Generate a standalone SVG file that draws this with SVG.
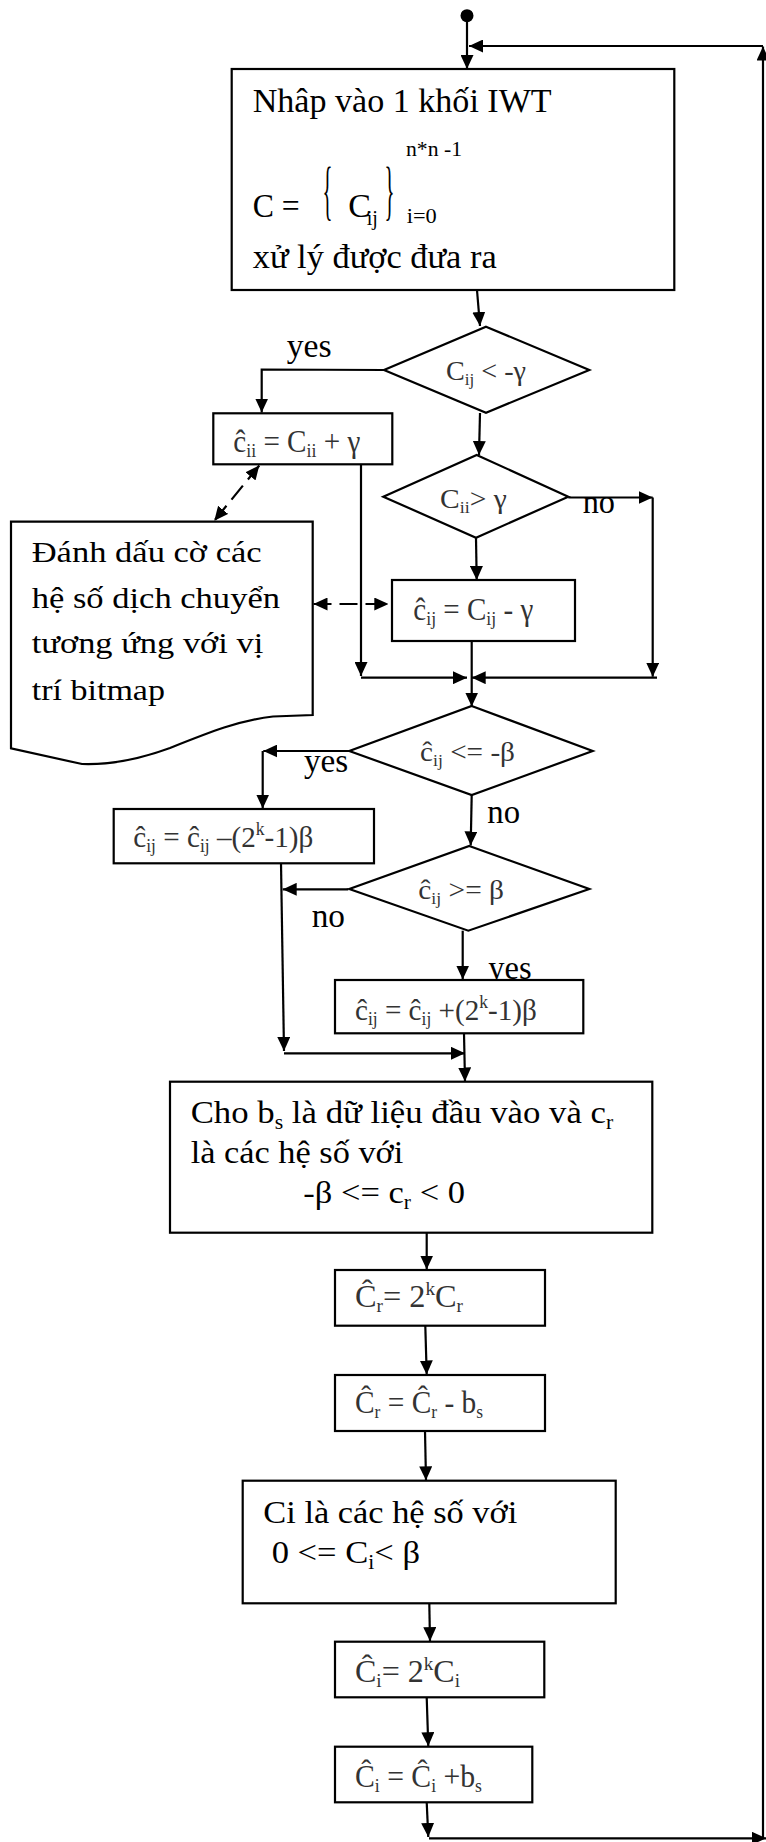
<svg xmlns="http://www.w3.org/2000/svg" width="766" height="1842" viewBox="0 0 766 1842" font-family="'Liberation Serif', serif">
<style>
.t{fill:#000}
.eq{fill:#333}
.box{fill:#fff;stroke:#000;stroke-width:2.2}
.ln{fill:none;stroke:#000;stroke-width:2.2}
.ar{marker-end:url(#ah)}
.dash{stroke-dasharray:18 8;marker-start:url(#ah2);marker-end:url(#ah2)}
</style>
<defs>
<marker id="ah" markerUnits="userSpaceOnUse" markerWidth="14" markerHeight="13" viewBox="0 0 14 13" refX="14" refY="6.5" orient="auto"><path d="M0,0 L14,6.5 L0,13 z" fill="#000"/></marker>
<marker id="ah2" markerUnits="userSpaceOnUse" markerWidth="14" markerHeight="13" viewBox="0 0 14 13" refX="14" refY="6.5" orient="auto-start-reverse"><path d="M0,0 L14,6.5 L0,13 z" fill="#000"/></marker>
</defs>
<rect width="766" height="1842" fill="#fff"/>

<g id="connectors">
  <line class="ln ar" x1="467" y1="20" x2="467" y2="69"/>
  <line class="ln ar" x1="429" y1="1838.3" x2="766" y2="1838.3"/>
  <line class="ln ar" x1="763" y1="1838.3" x2="763" y2="46.5"/>
  <line class="ln ar" x1="763" y1="46" x2="469" y2="46"/>
  <line class="ln ar" x1="477" y1="290" x2="480" y2="326"/>
  <polyline class="ln ar" points="384,370 261.7,369.5 261.7,412.5"/>
  <line class="ln ar" x1="480" y1="413" x2="479" y2="455"/>
  <line class="ln ar" x1="568.3" y1="497.5" x2="652.7" y2="497.5"/>
  <line class="ln ar" x1="652.7" y1="497.5" x2="652.7" y2="676.7"/>
  <line class="ln ar" x1="657" y1="677.7" x2="471.7" y2="677.7"/>
  <line class="ln ar" x1="476" y1="538" x2="476.7" y2="580"/>
  <line class="ln ar" x1="361" y1="464.3" x2="361" y2="676"/>
  <line class="ln ar" x1="361" y1="677.7" x2="467" y2="677.7"/>
  <line class="ln ar" x1="471.7" y1="641" x2="471.7" y2="706.5"/>
  <line class="ln dash" x1="313.5" y1="604" x2="388.3" y2="604"/>
  <line class="ln dash" x1="259.3" y1="465.5" x2="214.3" y2="520.7"/>
  <line class="ln ar" x1="349.3" y1="751" x2="263.3" y2="751"/>
  <line class="ln ar" x1="262.7" y1="751" x2="262.7" y2="808.5"/>
  <line class="ln ar" x1="471.7" y1="795" x2="470.7" y2="845.5"/>
  <line class="ln ar" x1="348.3" y1="889.3" x2="282.7" y2="889.3"/>
  <line class="ln ar" x1="281" y1="863.3" x2="284" y2="1051"/>
  <line class="ln ar" x1="284" y1="1053.3" x2="465" y2="1053.3"/>
  <line class="ln ar" x1="462.7" y1="930.7" x2="462.7" y2="979.5"/>
  <line class="ln ar" x1="464" y1="1033.3" x2="465" y2="1081.5"/>
  <line class="ln ar" x1="426.7" y1="1232.7" x2="426.7" y2="1269.5"/>
  <line class="ln ar" x1="425.3" y1="1325.7" x2="426.7" y2="1374.5"/>
  <line class="ln ar" x1="425" y1="1431" x2="426" y2="1480.3"/>
  <line class="ln ar" x1="429.3" y1="1603.3" x2="430" y2="1641.2"/>
  <line class="ln ar" x1="426.7" y1="1697.3" x2="428.3" y2="1746.2"/>
  <line class="ln ar" x1="426.7" y1="1802.3" x2="428.3" y2="1837"/>
  <g class="t" font-size="33" font-family="'Liberation Serif', serif">
    <text x="286.7" y="356.7" textLength="45" lengthAdjust="spacingAndGlyphs">yes</text>
    <text x="582.7" y="512.7" textLength="32.3" lengthAdjust="spacingAndGlyphs">no</text>
    <text x="304" y="771.7" textLength="44.3" lengthAdjust="spacingAndGlyphs">yes</text>
    <text x="487.3" y="823.3" textLength="32.7" lengthAdjust="spacingAndGlyphs">no</text>
    <text x="311.7" y="926.7" textLength="33.3" lengthAdjust="spacingAndGlyphs">no</text>
    <text x="488.3" y="979.3" textLength="43.4" lengthAdjust="spacingAndGlyphs">yes</text>
  </g>
</g>

<g id="start">
  <circle cx="467" cy="15.7" r="6.5" fill="#000"/>
</g>

<g id="n-input" font-family="'Liberation Serif', serif">
  <rect class="box" x="231.7" y="69" width="442.6" height="221"/>
  <text class="t" x="252.7" y="111.7" font-size="34" textLength="299" lengthAdjust="spacingAndGlyphs">Nhâp vào 1 khối IWT</text>
  <text class="t" x="406" y="156" font-size="21" textLength="56" lengthAdjust="spacingAndGlyphs">n*n -1</text>
  <text class="t" x="252.7" y="216.7" font-size="34" textLength="47" lengthAdjust="spacingAndGlyphs">C =</text>
  <text class="t" x="322.5" y="211.5" font-size="66" textLength="10" lengthAdjust="spacingAndGlyphs">{</text>
  <text class="t" x="348.3" y="216.7" font-size="34">C</text>
  <text class="t" x="366.7" y="225" font-size="20">ij</text>
  <text class="t" x="384.5" y="211.5" font-size="66" textLength="10" lengthAdjust="spacingAndGlyphs">}</text>
  <text class="t" x="406.7" y="222.7" font-size="21" textLength="30" lengthAdjust="spacingAndGlyphs">i=0</text>
  <text class="t" x="252.7" y="268.3" font-size="34" textLength="244" lengthAdjust="spacingAndGlyphs">xử lý được đưa ra</text>
</g>

<g id="d-lt-gamma" font-family="'Liberation Serif', serif">
  <polygon class="box" points="486,326.7 589.3,370 486,412.7 384,370"/>
  <text class="t eq" x="446" y="380" font-size="28" textLength="80" lengthAdjust="spacingAndGlyphs">C<tspan font-size="17" dy="5">ij</tspan><tspan dy="-5"> &lt; -γ</tspan></text>
</g>

<g id="n-add-gamma" font-family="'Liberation Serif', serif">
  <rect class="box" x="213.3" y="413.3" width="179" height="51"/>
  <text class="t eq" x="233.3" y="451.7" font-size="31" textLength="127" lengthAdjust="spacingAndGlyphs">ĉ<tspan font-size="19" dy="5">ii</tspan><tspan dy="-5"> = C</tspan><tspan font-size="19" dy="5">ii</tspan><tspan dy="-5"> + γ</tspan></text>
</g>

<g id="d-gt-gamma" font-family="'Liberation Serif', serif">
  <polygon class="box" points="476.7,455 568.3,496.7 476,537.7 383.3,496.7"/>
  <text class="t eq" x="440" y="508.3" font-size="28" textLength="66.7" lengthAdjust="spacingAndGlyphs">C<tspan font-size="17" dy="5">ii</tspan><tspan dy="-5">&gt; γ</tspan></text>
</g>

<g id="n-sub-gamma" font-family="'Liberation Serif', serif">
  <rect class="box" x="392" y="580" width="183" height="61"/>
  <text class="t eq" x="413.3" y="620" font-size="31" textLength="120" lengthAdjust="spacingAndGlyphs">ĉ<tspan font-size="19" dy="5">ij</tspan><tspan dy="-5"> = C</tspan><tspan font-size="19" dy="5">ij</tspan><tspan dy="-5"> - γ</tspan></text>
</g>

<g id="n-flag" font-family="'Liberation Serif', serif">
  <path class="box" d="M11,521.7 H312.7 V715 L273,716.5 C240,720 210,732 170,748 C140,759 110,765 82,764 L11,748.3 Z" stroke-width="2"/>
  <g class="t" font-size="30">
    <text x="31.7" y="562.3" textLength="230" lengthAdjust="spacingAndGlyphs">Đánh dấu cờ các</text>
    <text x="31.7" y="608.3" textLength="248.3" lengthAdjust="spacingAndGlyphs">hệ số dịch chuyển</text>
    <text x="31.7" y="653.3" textLength="231.6" lengthAdjust="spacingAndGlyphs">tương ứng với vị</text>
    <text x="31.7" y="700" textLength="133.3" lengthAdjust="spacingAndGlyphs">trí bitmap</text>
  </g>
</g>

<g id="d-le-beta" font-family="'Liberation Serif', serif">
  <polygon class="box" points="471.7,706 592.7,751 471.7,795 349.3,751"/>
  <text class="t eq" x="420" y="760.7" font-size="28" textLength="95" lengthAdjust="spacingAndGlyphs">ĉ<tspan font-size="17" dy="5">ij</tspan><tspan dy="-5"> &lt;= -β</tspan></text>
</g>

<g id="n-sub-beta" font-family="'Liberation Serif', serif">
  <rect class="box" x="113.7" y="809" width="260.3" height="54.3"/>
  <text class="t eq" x="133.3" y="846.7" font-size="30" textLength="180" lengthAdjust="spacingAndGlyphs">ĉ<tspan font-size="18" dy="5">ij</tspan><tspan dy="-5"> = ĉ</tspan><tspan font-size="18" dy="5">ij</tspan><tspan dy="-5"> –(2</tspan><tspan font-size="18" dy="-12">k</tspan><tspan dy="12">-1)β</tspan></text>
</g>

<g id="d-ge-beta" font-family="'Liberation Serif', serif">
  <polygon class="box" points="469.3,846 589.3,889 468.3,930.7 349.3,889"/>
  <text class="t eq" x="418.3" y="899.3" font-size="28" textLength="85.7" lengthAdjust="spacingAndGlyphs">ĉ<tspan font-size="17" dy="5">ij</tspan><tspan dy="-5"> &gt;= β</tspan></text>
</g>

<g id="n-add-beta" font-family="'Liberation Serif', serif">
  <rect class="box" x="335" y="980" width="248.3" height="53.3"/>
  <text class="t eq" x="355" y="1020" font-size="30" textLength="181.7" lengthAdjust="spacingAndGlyphs">ĉ<tspan font-size="18" dy="5">ij</tspan><tspan dy="-5"> = ĉ</tspan><tspan font-size="18" dy="5">ij</tspan><tspan dy="-5"> +(2</tspan><tspan font-size="18" dy="-12">k</tspan><tspan dy="12">-1)β</tspan></text>
</g>

<g id="n-cr-def" font-family="'Liberation Serif', serif">
  <rect class="box" x="170" y="1081.7" width="482.3" height="151"/>
  <text class="t" x="190.7" y="1123.3" font-size="32" textLength="422.6" lengthAdjust="spacingAndGlyphs">Cho b<tspan font-size="20" dy="6">s</tspan><tspan dy="-6"> là dữ liệu đầu vào và c</tspan><tspan font-size="20" dy="6">r</tspan></text>
  <text class="t" x="190.7" y="1162.7" font-size="32" textLength="212.6" lengthAdjust="spacingAndGlyphs">là các hệ số với</text>
  <text class="t" x="303.3" y="1202.7" font-size="32" textLength="161.7" lengthAdjust="spacingAndGlyphs">-β &lt;= c<tspan font-size="20" dy="6">r</tspan><tspan dy="-6"> &lt; 0</tspan></text>
</g>

<g id="n-cr-scale" font-family="'Liberation Serif', serif">
  <rect class="box" x="335" y="1270" width="210" height="55.7"/>
  <text class="t eq" x="355" y="1307.3" font-size="32" textLength="108" lengthAdjust="spacingAndGlyphs">Ĉ<tspan font-size="19" dy="5">r</tspan><tspan dy="-5">=  2</tspan><tspan font-size="19" dy="-12">k</tspan><tspan dy="12">C</tspan><tspan font-size="19" dy="5">r</tspan></text>
</g>

<g id="n-cr-embed" font-family="'Liberation Serif', serif">
  <rect class="box" x="335" y="1375" width="210" height="56"/>
  <text class="t eq" x="355" y="1412.7" font-size="32" textLength="128" lengthAdjust="spacingAndGlyphs">Ĉ<tspan font-size="19" dy="5">r</tspan><tspan dy="-5"> = Ĉ</tspan><tspan font-size="19" dy="5">r</tspan><tspan dy="-5"> - b</tspan><tspan font-size="19" dy="5">s</tspan></text>
</g>

<g id="n-ci-def" font-family="'Liberation Serif', serif">
  <rect class="box" x="242.7" y="1480.7" width="373" height="122.6"/>
  <text class="t" x="263.3" y="1523.3" font-size="32" textLength="254" lengthAdjust="spacingAndGlyphs">Ci là các hệ số với</text>
  <text class="t" x="271.7" y="1563.3" font-size="32" textLength="148.3" lengthAdjust="spacingAndGlyphs">0 &lt;= C<tspan font-size="20" dy="6">i</tspan><tspan dy="-6">&lt; β</tspan></text>
</g>

<g id="n-ci-scale" font-family="'Liberation Serif', serif">
  <rect class="box" x="335" y="1641.7" width="209.3" height="55.6"/>
  <text class="t eq" x="355" y="1681.7" font-size="32" textLength="105" lengthAdjust="spacingAndGlyphs">Ĉ<tspan font-size="19" dy="5">i</tspan><tspan dy="-5">=  2</tspan><tspan font-size="19" dy="-12">k</tspan><tspan dy="12">C</tspan><tspan font-size="19" dy="5">i</tspan></text>
</g>

<g id="n-ci-embed" font-family="'Liberation Serif', serif">
  <rect class="box" x="335" y="1746.7" width="197.3" height="55.6"/>
  <text class="t eq" x="355" y="1786.7" font-size="32" textLength="127" lengthAdjust="spacingAndGlyphs">Ĉ<tspan font-size="19" dy="5">i</tspan><tspan dy="-5"> = Ĉ</tspan><tspan font-size="19" dy="5">i</tspan><tspan dy="-5"> +b</tspan><tspan font-size="19" dy="5">s</tspan></text>
</g>
</svg>
